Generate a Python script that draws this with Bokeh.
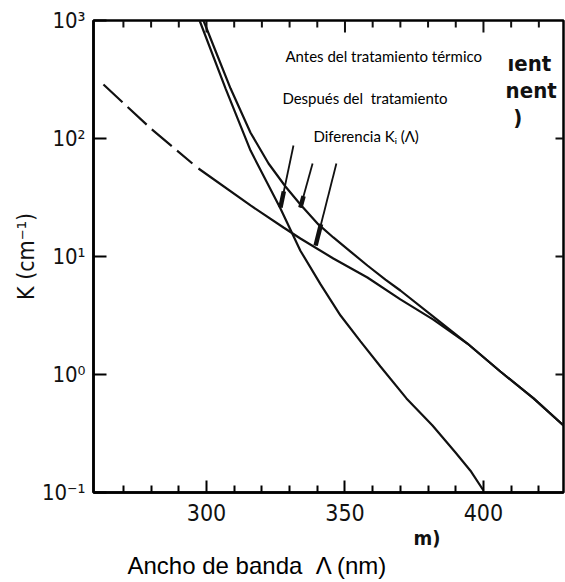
import numpy as np
from bokeh.plotting import figure
from bokeh.models import FixedTicker, CustomJSTickFormatter, Label, Title
from bokeh.embed import file_html
from bokeh.resources import INLINE

# ---------------- data ----------------
antes_nm = [298.9, 303.2, 308.7, 315.9, 322.4, 328.5, 333.9, 340.4, 345.8, 352.0,
            358.1, 364.6, 370.0, 381.9, 394.2, 406.1, 418.1, 428.9]
antes_k = [1000, 557, 265, 112, 61.4, 39.2, 27.6, 18.7, 14.5, 11.0,
           8.39, 6.38, 5.15, 3.10, 1.83, 1.06, 0.627, 0.37]

despues_nm = [297.5, 306.9, 315.9, 326.7, 333.9, 341.2, 348.4, 355.6, 362.8,
              372.2, 381.6, 389.9, 395.3, 400.0]
despues_k = [1000, 265, 79, 25.5, 11.2, 5.8, 3.16, 1.91, 1.17,
             0.627, 0.37, 0.218, 0.153, 0.104]

dif_ext_nm = [262.8, 279.8, 294.9]          # dashed extrapolation
dif_ext_k = [287, 122, 61.4]
dif_nm = [297.1, 315.9, 327.8, 333.9, 345.8, 358.1, 370.0, 381.9, 394.2, 406.1, 418.1, 428.9]
dif_k = [55.7, 27.1, 17.6, 14.2, 9.62, 6.64, 4.33, 2.92, 1.83, 1.06, 0.627, 0.37]

x_range = (259.2, 428.9)
y_range = (0.1, 1000)
x_major = [300, 350, 400]
x_minor = [270, 280, 290, 310, 320, 330, 340, 360, 370, 380, 390, 410, 420]
y_major = [0.1, 1, 10, 100, 1000]
y_right = [1, 10, 100]

# pointer arrows (from text to curves)
arr_x0 = [331.4, 338.3, 346.9]
arr_y0 = [87.3, 61.4, 61.4]
arr_x1 = [326.7, 333.9, 339.4]
arr_y1 = [26.0, 26.0, 12.4]

NB = "\u00a0"
labels = [
    ("Antes del tratamiento térmico", 328.5, 505),
    ("Después del" + NB + NB + "tratamiento", 327.4, 222),
    ("Diferencia Kᵢ (Λ)", 338.6, 106),
]
remnants = [("ıent", 408.7, 433), ("nent", 408.0, 255), (")", 410.8, 151)]
x_title = "Ancho de banda" + NB + NB + "Λ (nm)"
x_remnant = "m)"

# ---------------- figure ----------------
FRAME_W, FRAME_H = 470, 472
p = figure(width=565, height=582, x_range=x_range, y_range=y_range,
           y_axis_type="log", output_backend="svg", toolbar_location=None,
           min_border_left=93, min_border_right=2, min_border_top=20,
           min_border_bottom=90, background_fill_color="white",
           border_fill_color="white")
p.xgrid.visible = False
p.ygrid.visible = False
p.outline_line_color = "black"
p.outline_line_width = 2.5

TICK_FONT = "DejaVu Sans Condensed, DejaVu Sans"
C = "#111111"

# bottom axis
xa = p.xaxis[0]
xa.ticker = FixedTicker(ticks=x_major, minor_ticks=x_minor)
xa.major_tick_in = 12
xa.major_tick_out = 0
xa.minor_tick_in = 7
xa.minor_tick_out = 0
xa.axis_line_width = 2.5
xa.major_tick_line_width = 2
xa.minor_tick_line_width = 2
xa.major_label_text_font = TICK_FONT
xa.major_label_text_font_size = "23px"
xa.major_label_text_color = C
xa.major_label_standoff = 11

sup_js = """
const sup = {"-":"\u207b","0":"\u2070","1":"\u00b9","2":"\u00b2","3":"\u00b3"};
const e = Math.round(Math.log10(tick));
return "10" + String(e).split("").map(c => sup[c]).join("");
"""

# left axis
ya = p.yaxis[0]
ya.ticker = FixedTicker(ticks=y_major, minor_ticks=[])
ya.formatter = CustomJSTickFormatter(code=sup_js)
ya.major_tick_in = 13
ya.major_tick_out = 0
ya.minor_tick_in = 0
ya.minor_tick_out = 0
ya.axis_line_width = 2.5
ya.major_tick_line_width = 2
ya.major_label_text_font = TICK_FONT
ya.major_label_text_font_size = "22px"
ya.major_label_text_color = C
ya.major_label_standoff = 8
ya.axis_label = "K (cm\u207b\u00b9)"
ya.axis_label_text_font = TICK_FONT
ya.axis_label_text_font_size = "23px"
ya.axis_label_text_font_style = "normal"
ya.axis_label_text_color = C
ya.axis_label_standoff = 0

# inward ticks on the top and right frame edges
px_per_nm = FRAME_W / (x_range[1] - x_range[0])
px_per_dec = FRAME_H / (np.log10(y_range[1]) - np.log10(y_range[0]))
top = y_range[1]
p.segment(x_major, [top] * len(x_major), x_major,
          [top / 10 ** (12 / px_per_dec)] * len(x_major), line_width=2, line_color=C)
p.segment(x_minor, [top] * len(x_minor), x_minor,
          [top / 10 ** (7 / px_per_dec)] * len(x_minor), line_width=2, line_color=C)
right = x_range[1]
p.segment([right] * len(y_right), y_right, [right - 8 / px_per_nm] * len(y_right), y_right,
          line_width=2, line_color=C)

# remnant of the original axis title, then the x axis title (left-offset)
p.add_layout(Title(text=x_remnant, align="left", offset=320,
                   text_font=TICK_FONT, text_font_size="20px",
                   text_font_style="bold", text_color=C, standoff=0), "below")
p.add_layout(Title(text=x_title, align="left", offset=34,
                   text_font="Liberation Sans", text_font_size="24px",
                   text_font_style="normal", text_color="black", standoff=0), "below")

# ---------------- curves ----------------
LW = 2.2
p.line(antes_nm, antes_k, line_width=LW, line_color=C)
p.line(despues_nm, despues_k, line_width=LW, line_color=C)
p.line(dif_nm, dif_k, line_width=LW, line_color=C)
p.line(dif_ext_nm, dif_ext_k, line_width=LW, line_color=C, line_dash="26 7")

# pointer arrows
t = 0.74
ax0 = np.array(arr_x0); ay0 = np.log10(arr_y0)
ax1 = np.array(arr_x1); ay1 = np.log10(arr_y1)
hx = ax0 + t * (ax1 - ax0)
hy = 10 ** (ay0 + t * (ay1 - ay0))
p.segment(arr_x0, arr_y0, arr_x1, arr_y1, line_width=1.8, line_color=C)
p.segment(hx, hy, arr_x1, arr_y1, line_width=4.5, line_color=C)

# annotation texts
for txt, x, y in labels:
    p.add_layout(Label(x=x, y=y, text=txt, text_font="Lato", text_font_size="15px",
                       text_color="black", text_align="left", text_baseline="middle"))
for txt, x, y in remnants:
    p.add_layout(Label(x=x, y=y, text=txt, text_font=TICK_FONT, text_font_size="22px",
                       text_font_style="bold", text_color=C, text_align="left",
                       text_baseline="middle"))

open("out.html", "w").write(file_html(p, INLINE))
